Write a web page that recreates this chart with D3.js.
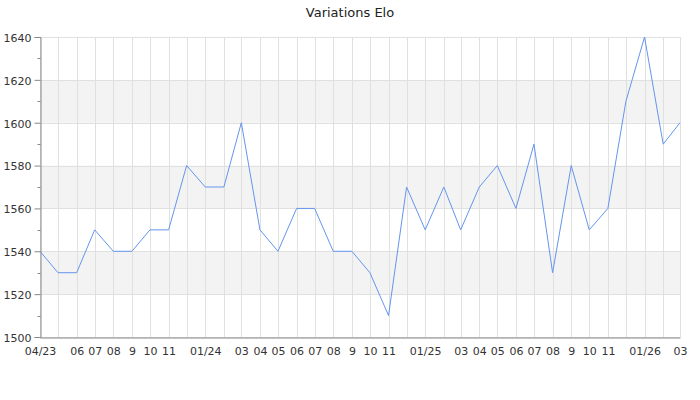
<!DOCTYPE html>
<html><head><meta charset="utf-8">
<script src="https://cdn.jsdelivr.net/npm/d3@7"></script>
<style>body{margin:0;background:#fff;} text{font-family:"DejaVu Sans",sans-serif;}</style>
</head><body><svg id="c" width="700" height="400"></svg>
<script>
const months = ["2023-04","2023-05","2023-06","2023-07","2023-08","2023-09","2023-10","2023-11","2023-12",
"2024-01","2024-02","2024-03","2024-04","2024-05","2024-06","2024-07","2024-08","2024-09","2024-10","2024-11","2024-12",
"2025-01","2025-02","2025-03","2025-04","2025-05","2025-06","2025-07","2025-08","2025-09","2025-10","2025-11","2025-12",
"2026-01","2026-02","2026-03"];
const elo = [1540,1530,1530,1550,1540,1540,1550,1550,1580,1570,1570,1600,1550,1540,1560,1560,1540,1540,1530,1510,1570,1550,1570,1550,1570,1580,1560,1590,1530,1580,1550,1560,1610,1640,1590,1600];
const monthLabels = ["04/23","","06","07","08","9","10","11","",
"01/24","","03","04","05","06","07","08","9","10","11","",
"01/25","","03","04","05","06","07","08","9","10","11","",
"01/26","","03"];
const yTicks = [1500,1520,1540,1560,1580,1600,1620,1640];
const yMinor = [1510,1530,1550,1570,1590,1610,1630];
const title = "Variations Elo";

const svg = d3.select("#c");
const L=40,R=680,T=37,B=337;
const dates = months.map(m=>new Date(m+"-01T00:00:00Z"));
const x = d3.scaleUtc().domain([dates[0],dates[dates.length-1]]).range([L,R]);
const y = d3.scaleLinear().domain([1500,1640]).range([B,T]);

// bands
for(let i=0;i<yTicks.length-1;i++){
  if(i%2===1) svg.append("rect").attr("x",L).attr("width",R-L)
    .attr("y",y(yTicks[i+1])).attr("height",y(yTicks[i])-y(yTicks[i+1])).attr("fill","#f3f3f3");
}
// grid
svg.append("g").selectAll("line").data(yTicks).join("line")
  .attr("x1",L).attr("x2",R).attr("y1",d=>Math.round(y(d))+0.5).attr("y2",d=>Math.round(y(d))+0.5)
  .attr("stroke","#e0e0e0");
svg.append("g").selectAll("line").data(dates).join("line")
  .attr("x1",d=>Math.round(x(d))+0.5).attr("x2",d=>Math.round(x(d))+0.5).attr("y1",T).attr("y2",B)
  .attr("stroke","#e0e0e0");

// line
svg.append("path").datum(elo).attr("fill","none").attr("stroke","#6495ed").attr("stroke-width",1)
  .attr("d",d3.line().x((d,i)=>x(dates[i])).y(d=>y(d)));

// y axis
const ya = svg.append("g").attr("transform",`translate(${L+0.5},0)`)
  .call(d3.axisLeft(y).tickValues(yTicks).tickSize(6).tickPadding(3).tickFormat(d3.format("d")));
ya.selectAll("text").attr("font-size",11).attr("fill","#333").attr("font-family","DejaVu Sans").attr("dy","0.4em");
ya.select(".domain").attr("stroke","#888");
ya.selectAll(".tick line").attr("stroke","#888");
ya.selectAll(".minor").data(yMinor).join("line").attr("class","minor")
  .attr("x1",-3).attr("x2",0).attr("y1",d=>Math.round(y(d))+0.5).attr("y2",d=>Math.round(y(d))+0.5).attr("stroke","#888");

// x axis
const xa = svg.append("g").attr("transform",`translate(0,${B+0.5})`)
  .call(d3.axisBottom(x).tickValues(dates).tickSize(0).tickFormat((d,i)=>monthLabels[i]));
xa.select(".domain").attr("stroke","#888");
xa.selectAll("text").attr("font-size",11).attr("fill","#333").attr("font-family","DejaVu Sans").attr("dy",14.5);

svg.append("text").attr("x",350).attr("y",17).attr("text-anchor","middle")
  .attr("font-size",13).attr("fill","#222").text(title);
</script></body></html>
